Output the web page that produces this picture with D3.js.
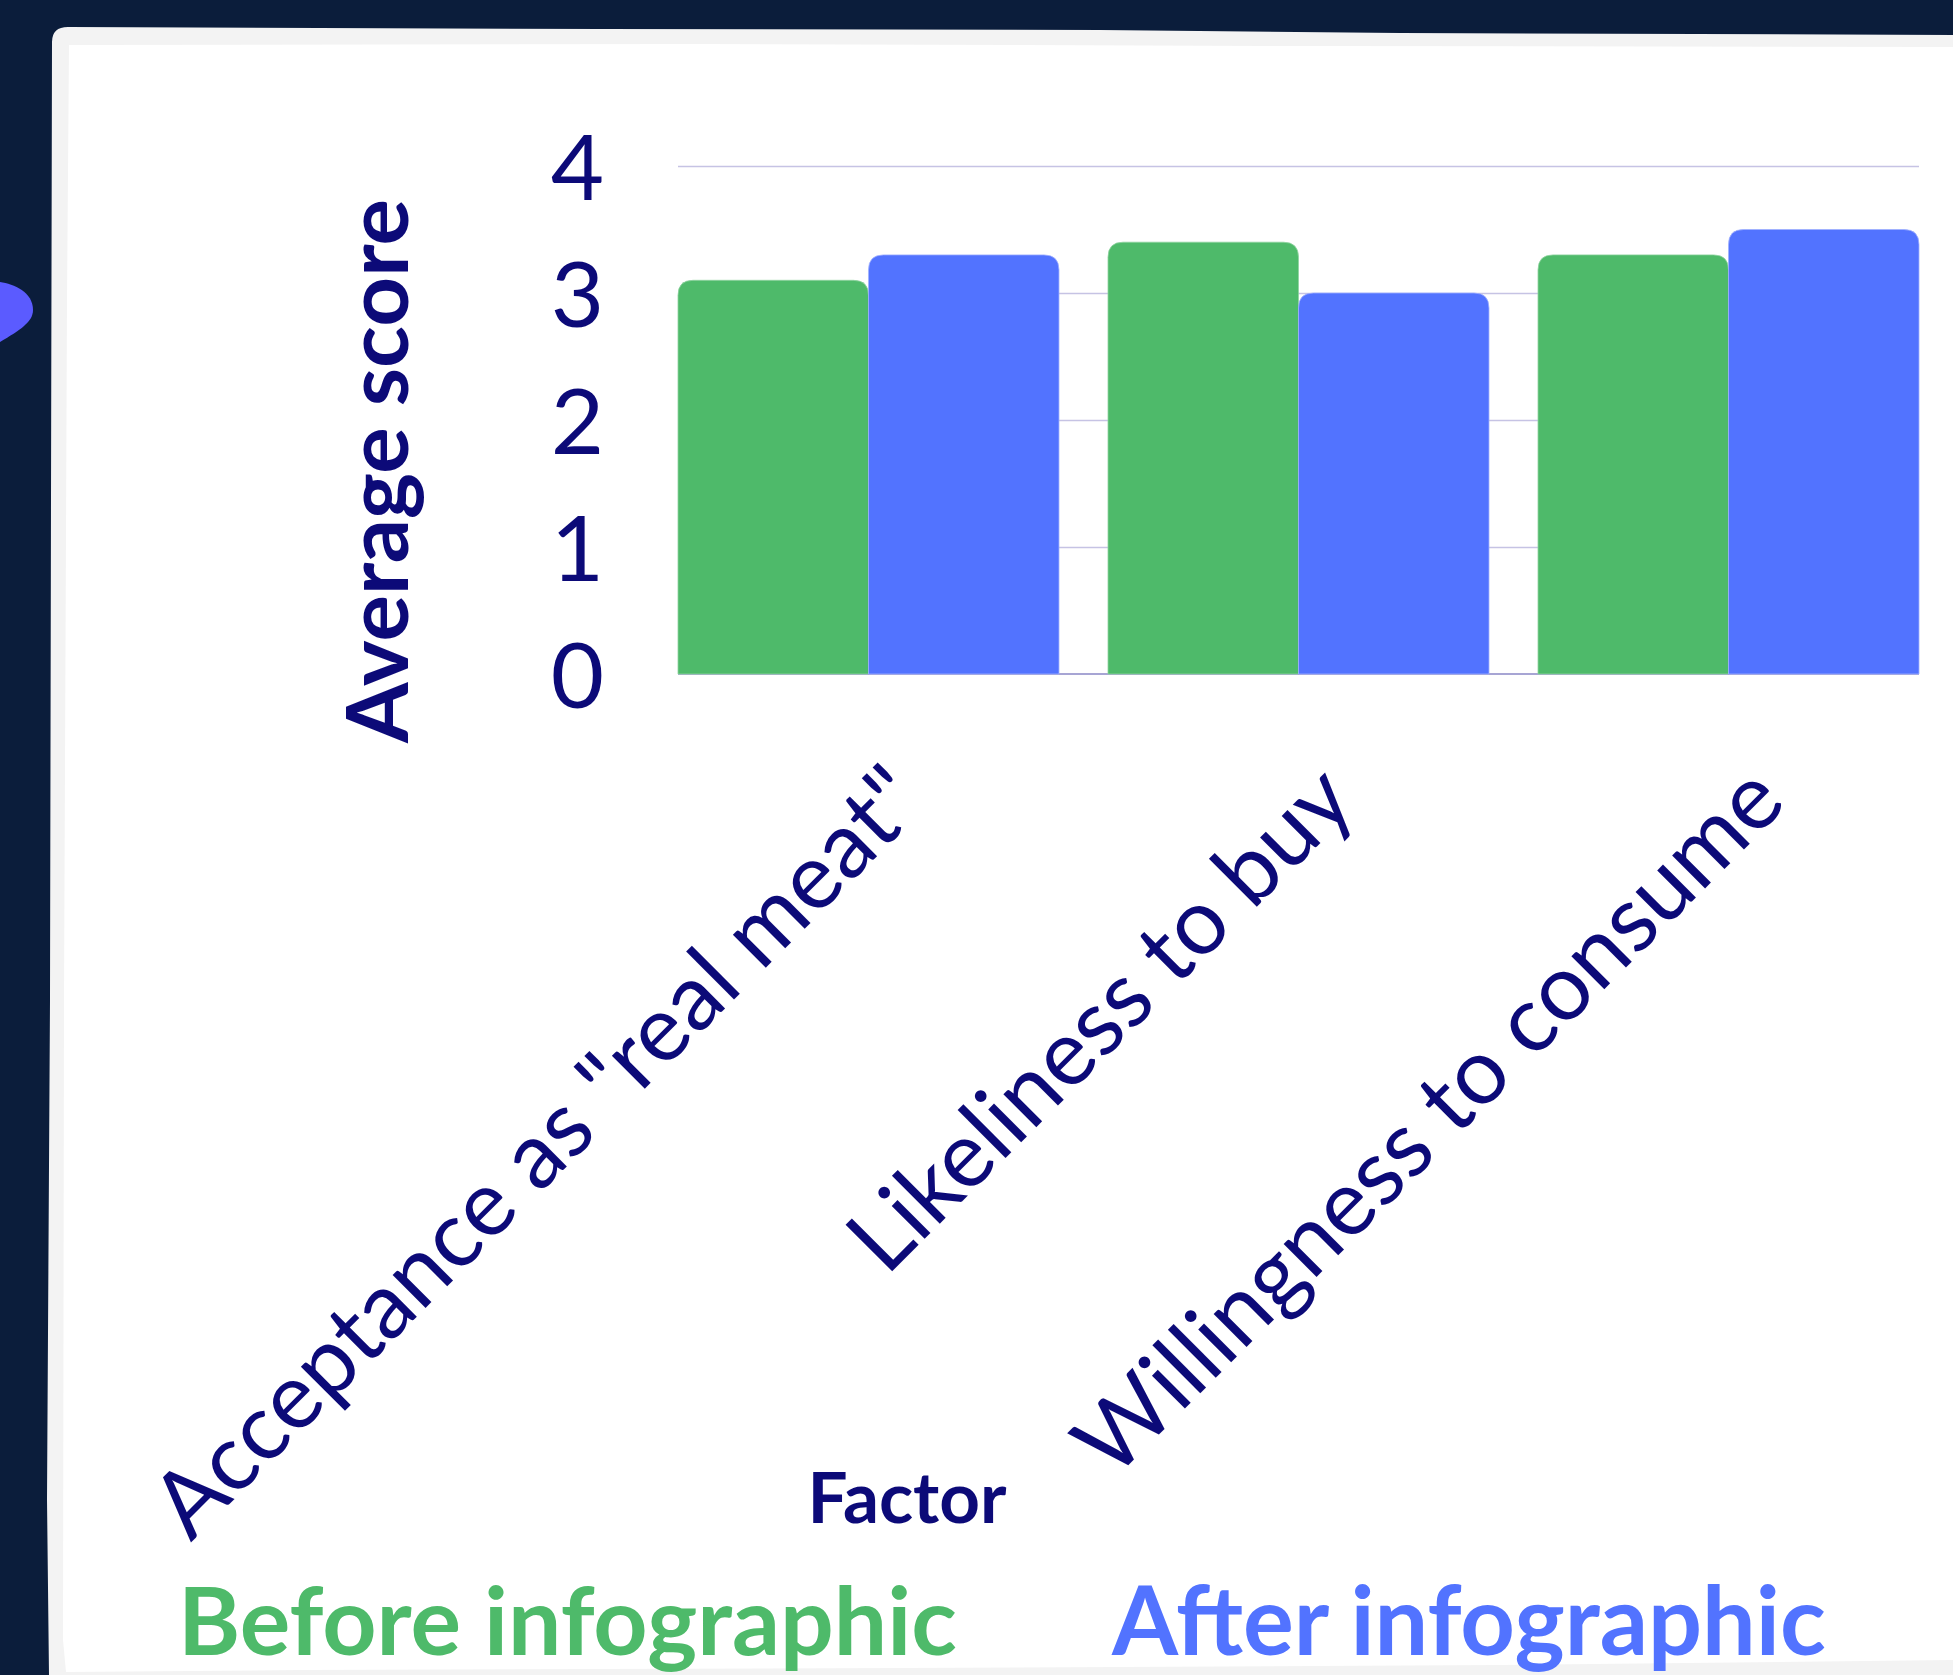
<!DOCTYPE html>
<html>
<head>
<meta charset="utf-8">
<script src="https://cdn.jsdelivr.net/npm/d3@7"></script>
<style>
  html, body { margin: 0; padding: 0; background: #0b1d3b; }
  svg { display: block; }
</style>
</head>
<body>
<script>
// ---- data ----
const categories = ['Acceptance as "real meat"', 'Likeliness to buy', 'Willingness to consume'];
const seriesNames = ['Before infographic', 'After infographic'];
const beforeValues = [3.1, 3.4, 3.3];
const afterValues = [3.3, 3.0, 3.5];
const yTickValues = [0, 1, 2, 3, 4];
const yTitle = 'Average score';
const xTitle = 'Factor';

// ---- styles ----
const W = 1953, H = 1675;
const NAVY = '#0c0a78';
const GREEN = '#4eba6a';
const BLUE = '#5273ff';
const FONT = 'Lato, "Open Sans", sans-serif';
const seriesColors = [GREEN, BLUE];

const svg = d3.select('body').append('svg').attr('width', W).attr('height', H);

// background + card
svg.append('rect').attr('width', W).attr('height', H).attr('fill', '#0b1d3b');
svg.append('path').attr('fill', '#5b5bff')
  .attr('d', 'M0,282 C14,284 33,292 33,310 C33,322 20,330 0,342 Z');
svg.append('path').attr('fill', '#f3f3f3')
  .attr('d', 'M52,42 Q52,27 68,27 L600,29 L1100,30 L1400,33 L1953,35 L1953,1675 L49,1675 L47,1500 L50,1000 L51,500 Z');
svg.append('path').attr('fill', '#ffffff')
  .attr('d', 'M69,45 L700,44 L1300,46 L1953,47 L1953,1660 L1500,1665 L900,1668 L300,1670 L66,1672 L63,1640 L64,1000 L67,300 Z');

// ---- chart ----
const plot = { left: 678, right: 1919, top: 166, bottom: 674 };

const x0 = d3.scaleBand().domain(categories)
  .range([plot.left, plot.right]).paddingInner(0.114).paddingOuter(0);
const x1 = d3.scaleBand().domain(seriesNames).range([0, x0.bandwidth()]).padding(0);
const y = d3.scaleLinear().domain([0, 4]).range([plot.bottom, plot.top]);

// gridlines
const grid = svg.append('g').attr('transform', `translate(${plot.left},0)`)
  .call(d3.axisLeft(y).tickValues(yTickValues.filter(v => v > 0)).tickSize(-(plot.right - plot.left)).tickFormat(''));
grid.select('.domain').remove();
grid.selectAll('line').attr('stroke', '#c6c3e4').attr('stroke-width', 1.5);

// baseline
svg.append('line').attr('x1', plot.left).attr('x2', plot.right)
  .attr('y1', y(0)).attr('y2', y(0)).attr('stroke', '#8a87c6').attr('stroke-width', 1.5);

// bars
const rows = categories.map((c, i) => ({ cat: c, vals: [beforeValues[i], afterValues[i]] }));
function topRounded(xl, w, yt, yb, r) {
  r = Math.min(r, w / 2, (yb - yt));
  return `M${xl},${yb} L${xl},${yt + r} Q${xl},${yt} ${xl + r},${yt} L${xl + w - r},${yt} Q${xl + w},${yt} ${xl + w},${yt + r} L${xl + w},${yb} Z`;
}
const groups = svg.append('g').selectAll('g').data(rows).join('g')
  .attr('transform', d => `translate(${x0(d.cat)},0)`);
groups.selectAll('path').data(d => d.vals.map((v, k) => ({ v, k }))).join('path')
  .attr('d', d => topRounded(x1(seriesNames[d.k]), x1.bandwidth(), y(d.v), y(0), 15))
  .attr('fill', d => seriesColors[d.k])
  .attr('stroke', d => d.k === 0 ? '#8fd3a0' : '#9fb0ff')
  .attr('stroke-width', 0.8);

// y axis labels
const yAxis = svg.append('g').attr('transform', `translate(${plot.left},0)`)
  .call(d3.axisLeft(y).tickValues(yTickValues).tickSize(0).tickPadding(74).tickFormat(d3.format('d')));
yAxis.select('.domain').remove();
yAxis.selectAll('text')
  .attr('fill', NAVY).style('font-family', FONT).style('font-size', '92px').style('font-weight', 400)
  .attr('dy', '0.36em');

// x axis labels
const xAxis = svg.append('g').attr('transform', `translate(0,${plot.bottom})`)
  .call(d3.axisBottom(x0).tickSize(0).tickPadding(0));
xAxis.select('.domain').remove();
const xLabels = xAxis.selectAll('text')
  .attr('fill', NAVY).style('font-family', FONT).style('font-weight', 400)
  .style('font-size', '100px')
  .attr('text-anchor', 'end').attr('y', 0).attr('dy', 0)
  .attr('transform', 'translate(60,131) rotate(-45)');

function fitSize(sel, target) {
  const node = sel.node();
  const fs = parseFloat(sel.style('font-size'));
  const len = node.getComputedTextLength();
  return fs * target / len;
}
// fit label font size to "Likeliness to buy" length
const lblSize = fitSize(xLabels.filter((d, i) => i === 1), 668);
xLabels.style('font-size', lblSize + 'px');

// y title
const yT = svg.append('text').text(yTitle)
  .attr('transform', 'translate(408,471) rotate(-90)')
  .attr('text-anchor', 'middle')
  .attr('fill', NAVY).style('font-family', FONT).style('font-weight', 700).style('font-size', '80px');
yT.style('font-size', fitSize(yT, 544) + 'px');

// x title
const xT = svg.append('text').text(xTitle)
  .attr('x', 907).attr('y', 1523).attr('text-anchor', 'middle')
  .attr('fill', NAVY).style('font-family', FONT).style('font-weight', 700).style('font-size', '66px');
xT.style('font-size', fitSize(xT, 199) + 'px');

// legend
const legendPos = [{ x: 178, w: 779 }, { x: 1112, w: 714 }];
seriesNames.forEach((name, k) => {
  const t = svg.append('text').text(name)
    .attr('x', legendPos[k].x).attr('y', 1655)
    .attr('fill', seriesColors[k]).style('font-family', FONT).style('font-weight', 700).style('font-size', '84px');
  t.style('font-size', fitSize(t, legendPos[k].w) + 'px');
});
</script>
</body>
</html>
